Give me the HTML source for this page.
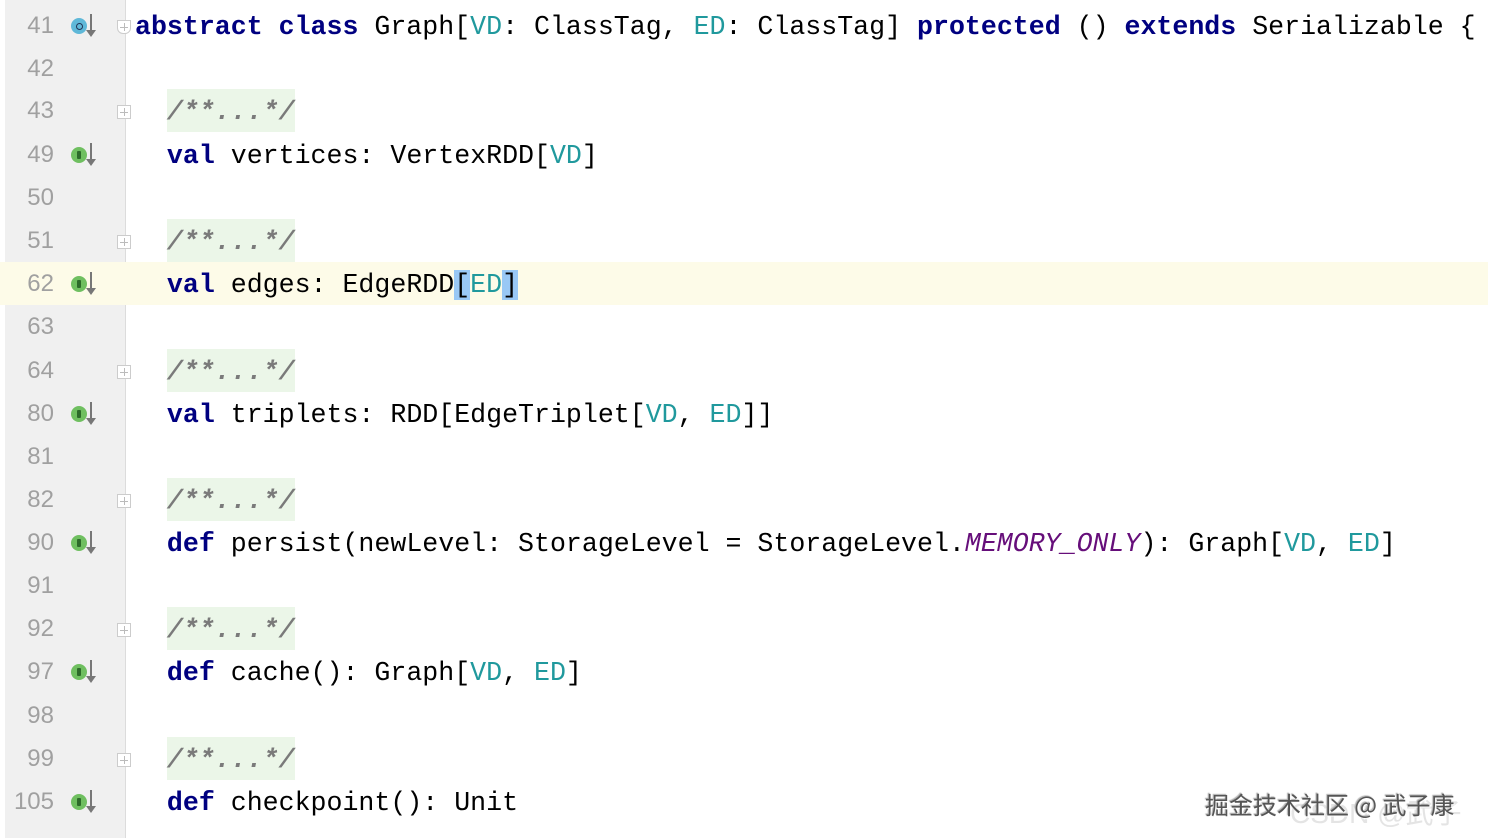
<!DOCTYPE html>
<html><head><meta charset="utf-8"><style>
html,body{margin:0;padding:0;background:#fff;width:1488px;height:838px;overflow:hidden;position:relative}
.gut{position:absolute;left:5px;top:0;width:120px;height:838px;background:#f0f0f0;border-right:1px solid #dcdcdc}
.ln{position:absolute;left:0;width:1488px;height:43px;line-height:43px}
.num{position:absolute;left:5px;top:0;width:49px;text-align:right;font:24px/43px "Liberation Sans","DejaVu Sans",sans-serif;color:#a0a0a0}
.code{position:absolute;left:135px;top:2px;font-family:"Liberation Mono",monospace;font-size:26.6px;line-height:43px;color:#000;white-space:pre}
.k{color:#000080;font-weight:bold}
.t{color:#20999d}
.c{color:#7a7a7a;font-style:italic;font-weight:bold;background:#ebf6e8;display:inline-block;height:43px;line-height:43px;vertical-align:top;margin-top:-2px;padding-top:2px;box-sizing:border-box}
.m{color:#660e7a;font-style:italic}
.hl{background:#99c8f5}
.ic{position:absolute;left:71px;top:14px;width:16px;height:16px;border-radius:50%;background:#6fbf60}
.ic.b{background:#5fb8d8}
.ic::after{content:"";position:absolute;left:6px;top:4px;width:4px;height:8px;background:#2d6b2a;border-radius:1px}
.ic.b::after{left:5px;top:5px;width:5px;height:5px;border-radius:50%;background:none;border:1px solid #235}
.ar{position:absolute;left:90px;top:10px;width:2px;height:20px;background:#777}
.ar::after{content:"";position:absolute;left:-4px;top:16px;border-left:5px solid transparent;border-right:5px solid transparent;border-top:7px solid #777}
.fold{position:absolute;left:117px;top:16px;width:14px;height:14px;border:1px solid #ccc;background:#fff;box-sizing:border-box}
.fold::before{content:"";position:absolute;left:2px;top:6px;width:8px;height:1px;background:#bbb}
.fold::after{content:"";position:absolute;left:6px;top:2px;width:1px;height:8px;background:#bbb}
.wm{position:absolute;left:1205px;top:786px;font:24px "Noto Sans CJK SC",sans-serif;color:#555;text-shadow:1px 1px 1px #fff,-1px -1px 1px #aaa}
.wm2{position:absolute;left:1290px;top:792px;font:28px "Liberation Sans","Noto Sans CJK SC",sans-serif;color:#e4e4e4}
</style></head><body>
<div class="gut"></div>
<div class="ln" style="top:262px;height:43px;background:#fdfbe8"></div>

<div class="ln" style="top:4px"><span class="num">41</span><span class="ic b"></span><span class="ar"></span><span class="fold" style="border-radius:0 0 6px 6px"></span><span class="code"><span class="k">abstract class </span>Graph[<span class="t">VD</span>: ClassTag, <span class="t">ED</span>: ClassTag] <span class="k">protected </span>() <span class="k">extends </span>Serializable {</span></div>
<div class="ln" style="top:47px"><span class="num">42</span></div>
<div class="ln" style="top:89px"><span class="num">43</span><span class="fold"></span><span class="code">  <span class="c">/**...*/</span></span></div>
<div class="ln" style="top:133px"><span class="num">49</span><span class="ic"></span><span class="ar"></span><span class="code">  <span class="k">val </span>vertices: VertexRDD[<span class="t">VD</span>]</span></div>
<div class="ln" style="top:176px"><span class="num">50</span></div>
<div class="ln" style="top:219px"><span class="num">51</span><span class="fold"></span><span class="code">  <span class="c">/**...*/</span></span></div>
<div class="ln" style="top:262px"><span class="num">62</span><span class="ic"></span><span class="ar"></span><span class="code">  <span class="k">val </span>edges: EdgeRDD<span class="hl">[</span><span class="t">ED</span><span class="hl">]</span></span></div>
<div class="ln" style="top:305px"><span class="num">63</span></div>
<div class="ln" style="top:349px"><span class="num">64</span><span class="fold"></span><span class="code">  <span class="c">/**...*/</span></span></div>
<div class="ln" style="top:392px"><span class="num">80</span><span class="ic"></span><span class="ar"></span><span class="code">  <span class="k">val </span>triplets: RDD[EdgeTriplet[<span class="t">VD</span>, <span class="t">ED</span>]]</span></div>
<div class="ln" style="top:435px"><span class="num">81</span></div>
<div class="ln" style="top:478px"><span class="num">82</span><span class="fold"></span><span class="code">  <span class="c">/**...*/</span></span></div>
<div class="ln" style="top:521px"><span class="num">90</span><span class="ic"></span><span class="ar"></span><span class="code">  <span class="k">def </span>persist(newLevel: StorageLevel = StorageLevel.<span class="m">MEMORY_ONLY</span>): Graph[<span class="t">VD</span>, <span class="t">ED</span>]</span></div>
<div class="ln" style="top:564px"><span class="num">91</span></div>
<div class="ln" style="top:607px"><span class="num">92</span><span class="fold"></span><span class="code">  <span class="c">/**...*/</span></span></div>
<div class="ln" style="top:650px"><span class="num">97</span><span class="ic"></span><span class="ar"></span><span class="code">  <span class="k">def </span>cache(): Graph[<span class="t">VD</span>, <span class="t">ED</span>]</span></div>
<div class="ln" style="top:694px"><span class="num">98</span></div>
<div class="ln" style="top:737px"><span class="num">99</span><span class="fold"></span><span class="code">  <span class="c">/**...*/</span></span></div>
<div class="ln" style="top:780px"><span class="num">105</span><span class="ic"></span><span class="ar"></span><span class="code">  <span class="k">def </span>checkpoint(): Unit</span></div>

<div class="wm2">CSDN @武子康</div>
<div class="wm">掘金技术社区 @ 武子康</div>
</body></html>
